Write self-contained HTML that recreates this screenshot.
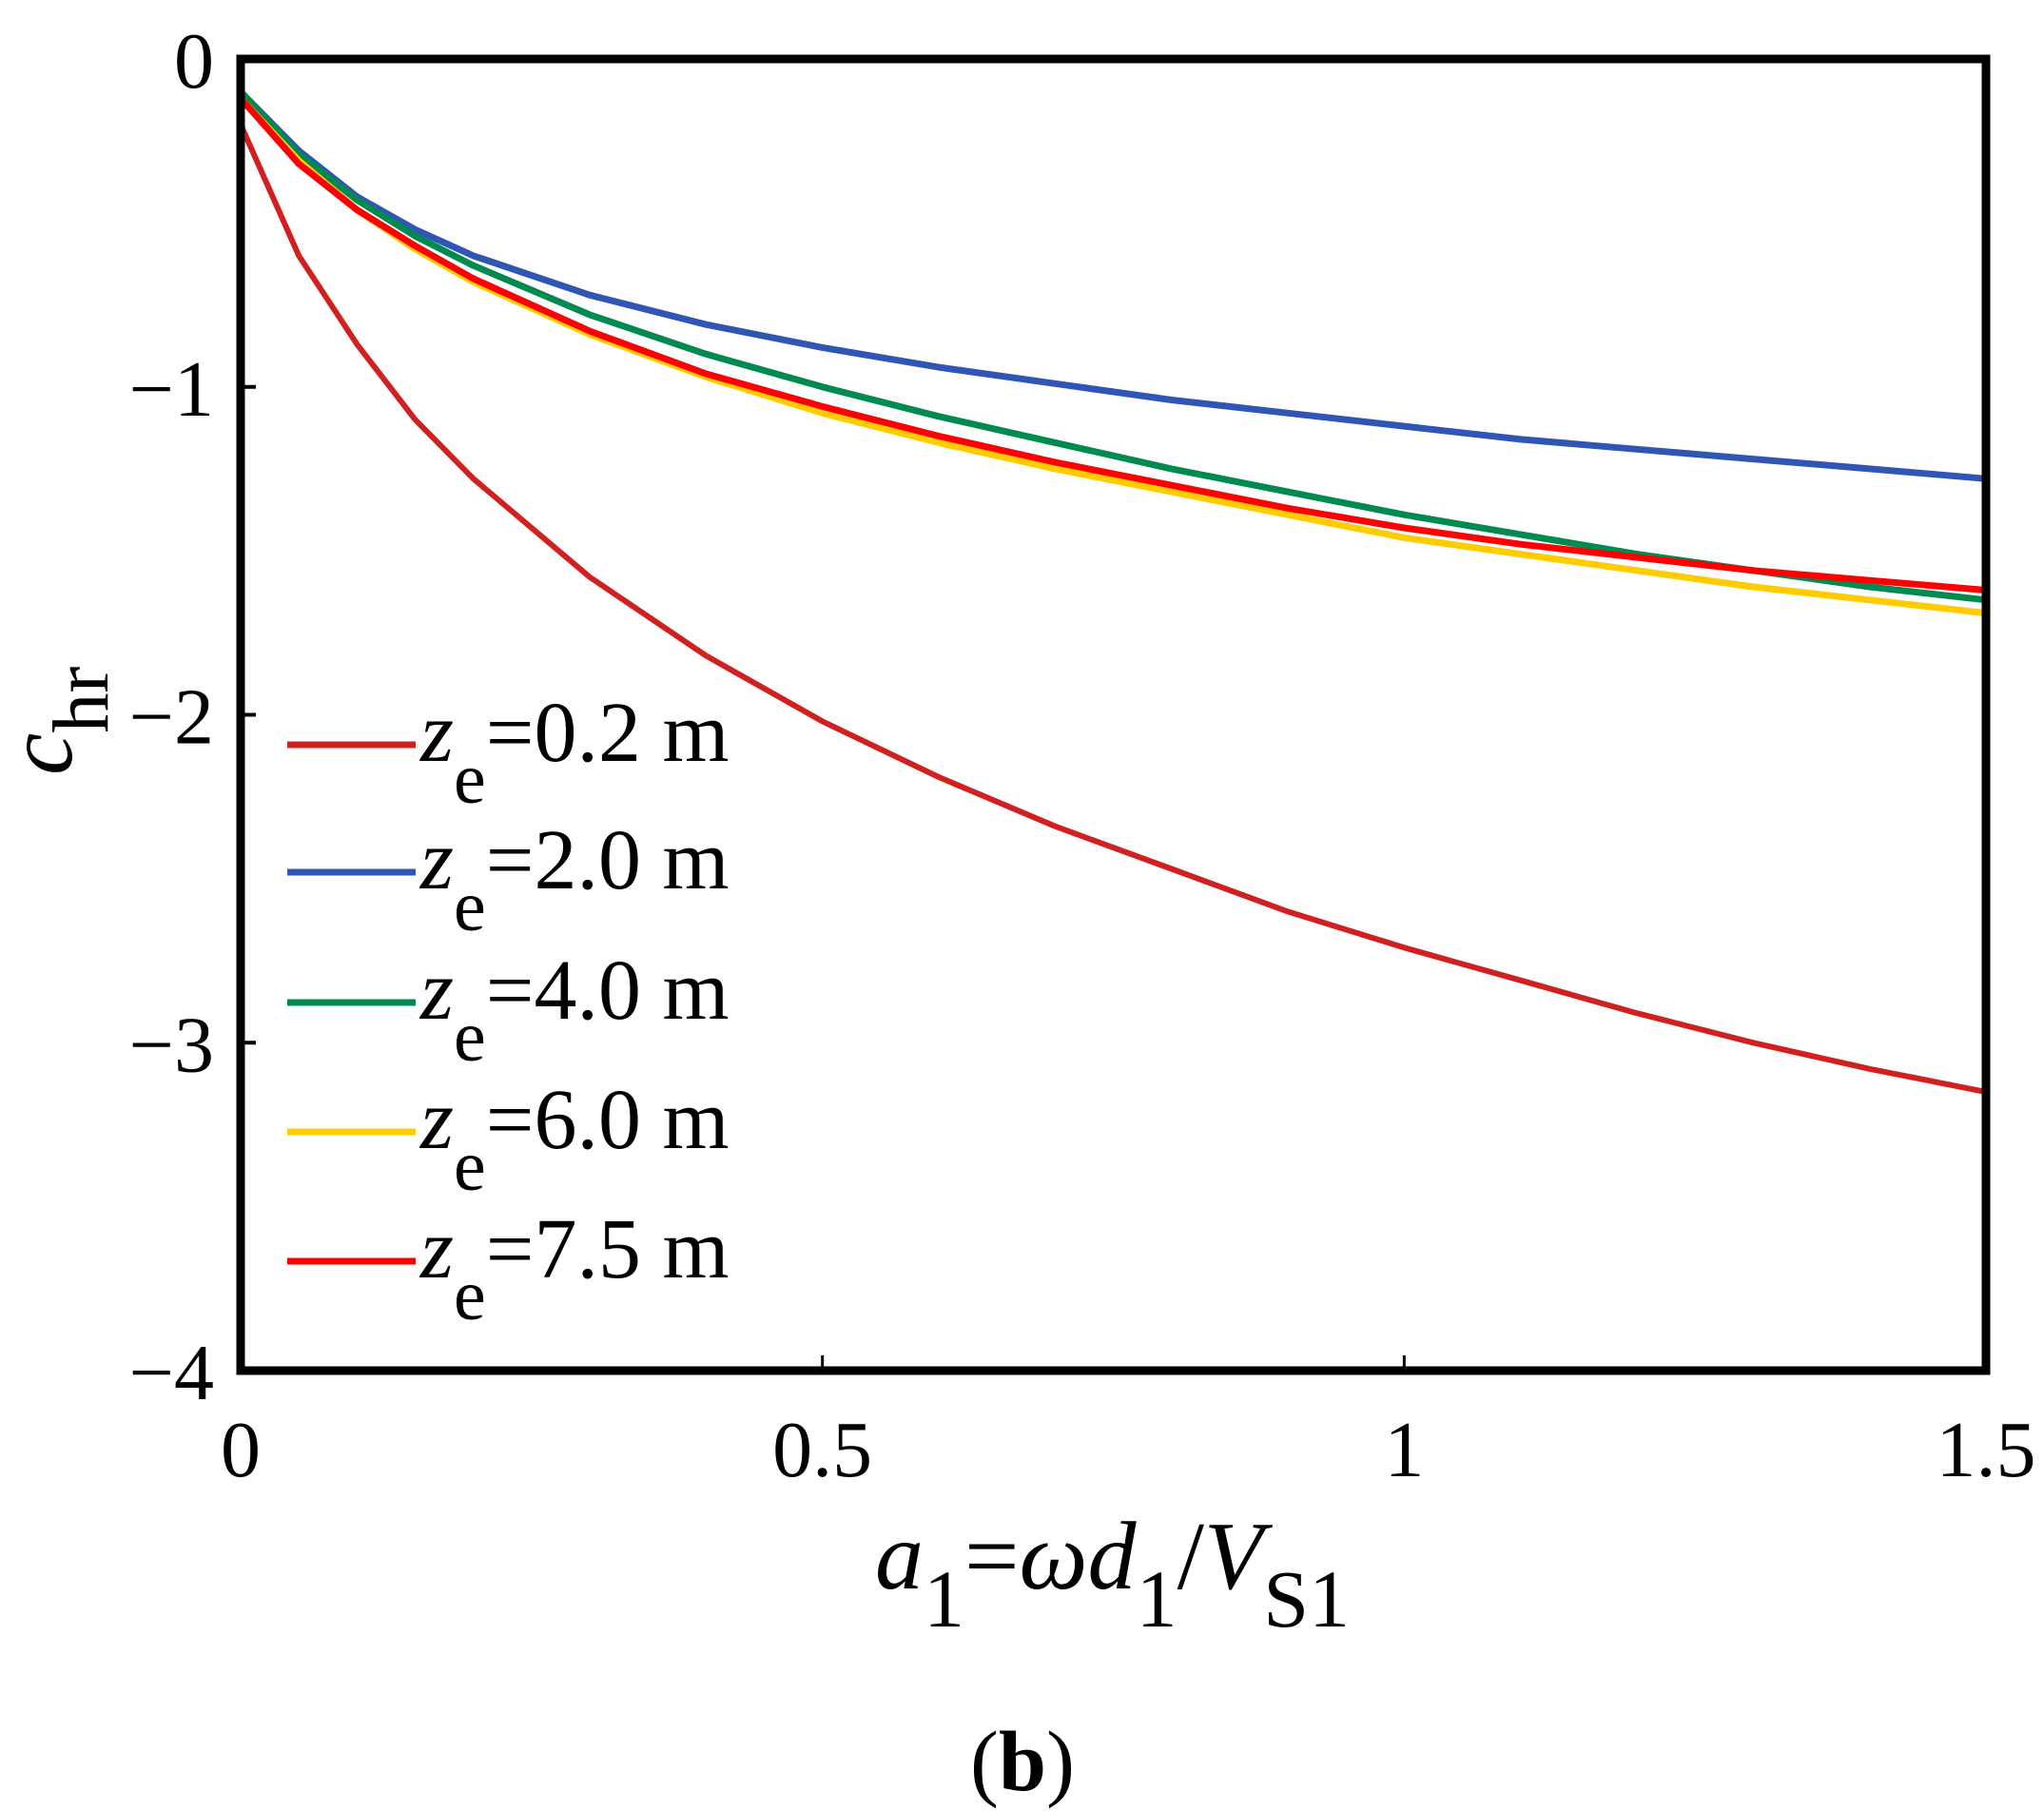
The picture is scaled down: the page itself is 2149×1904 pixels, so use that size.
<!DOCTYPE html>
<html><head><meta charset="utf-8"><style>html,body{margin:0;padding:0;background:#fff}svg{display:block}</style></head>
<body>
<svg id="chart" width="2149" height="1904" viewBox="0 0 2149 1904" xmlns="http://www.w3.org/2000/svg" font-family="'Liberation Serif', serif">
<g id="series"></g>
<rect x="253" y="62" width="1835" height="1379" fill="none" stroke="#000" stroke-width="9"/>
<g id="ticks"></g>
<g font-size="90">
 <g><line x1="302" y1="783" x2="437" y2="783" stroke="#d02020" stroke-width="7"/><text x="442" y="800"><tspan font-style="italic">z</tspan><tspan font-size="76" dy="44">e</tspan><tspan dy="-44">=0.2 m</tspan></text></g>
 <g><line x1="302" y1="917" x2="437" y2="917" stroke="#2f55b5" stroke-width="7"/><text x="442" y="934"><tspan font-style="italic">z</tspan><tspan font-size="76" dy="44">e</tspan><tspan dy="-44">=2.0 m</tspan></text></g>
 <g><line x1="302" y1="1054" x2="437" y2="1054" stroke="#008a50" stroke-width="7"/><text x="442" y="1071"><tspan font-style="italic">z</tspan><tspan font-size="76" dy="44">e</tspan><tspan dy="-44">=4.0 m</tspan></text></g>
 <g><line x1="302" y1="1190" x2="437" y2="1190" stroke="#ffcc00" stroke-width="7"/><text x="442" y="1207"><tspan font-style="italic">z</tspan><tspan font-size="76" dy="44">e</tspan><tspan dy="-44">=6.0 m</tspan></text></g>
 <g><line x1="302" y1="1326" x2="437" y2="1326" stroke="#ff0000" stroke-width="7"/><text x="442" y="1343"><tspan font-style="italic">z</tspan><tspan font-size="76" dy="44">e</tspan><tspan dy="-44">=7.5 m</tspan></text></g>
</g>
<text x="920" y="1670" font-size="102"><tspan font-style="italic">a</tspan><tspan font-size="86" dy="40">1</tspan><tspan dy="-40">=</tspan><tspan font-style="italic">ωd</tspan><tspan font-size="86" dy="40">1</tspan><tspan dy="-40">/</tspan><tspan font-style="italic">V</tspan><tspan font-size="86" dy="40">S1</tspan></text>
<text transform="translate(75,815) rotate(-90)" font-size="100"><tspan font-style="italic">c</tspan><tspan font-size="84" dy="38">hr</tspan></text>
<text x="1075" y="1882" font-size="90" text-anchor="middle">(<tspan font-weight="bold">b</tspan>)</text>
</svg>
<script>
const xValues = [0,0.05,0.1,0.15,0.2,0.3,0.4,0.5,0.6,0.7,0.8,0.9,1.0,1.1,1.2,1.3,1.4,1.5];
const ze02 = [-0.2,-0.6,-0.87,-1.1,-1.28,-1.58,-1.82,-2.02,-2.19,-2.34,-2.47,-2.6,-2.71,-2.81,-2.91,-3.0,-3.08,-3.15];
const ze20 = [-0.1,-0.28,-0.42,-0.52,-0.6,-0.72,-0.81,-0.88,-0.94,-0.99,-1.04,-1.08,-1.12,-1.16,-1.19,-1.22,-1.25,-1.28];
const ze40 = [-0.1,-0.29,-0.43,-0.54,-0.63,-0.78,-0.9,-1.0,-1.09,-1.17,-1.25,-1.32,-1.39,-1.45,-1.51,-1.56,-1.61,-1.65];
const ze60 = [-0.12,-0.31,-0.46,-0.58,-0.68,-0.84,-0.97,-1.08,-1.17,-1.25,-1.32,-1.39,-1.46,-1.51,-1.56,-1.61,-1.65,-1.69];
const ze75 = [-0.12,-0.32,-0.46,-0.57,-0.67,-0.83,-0.96,-1.06,-1.15,-1.23,-1.3,-1.37,-1.43,-1.48,-1.52,-1.56,-1.59,-1.62];
const xTicks = [0,0.5,1,1.5];
const xTickLabels = ["0","0.5","1","1.5"];
const yTicks = [0,-1,-2,-3,-4];
const yTickLabels = ["0","\u22121","\u22122","\u22123","\u22124"];

const NS = "http://www.w3.org/2000/svg";
const X0=253, X1=2088, Y0=62, Y1=1441;
function sx(v){return X0 + (v-0)/(1.5-0)*(X1-X0);}
function sy(v){return Y0 + (0-v)/(0-(-4))*(Y1-Y0);}
const seriesDefs = [
  {name:"line-ze-0.2", data:ze02, color:"#d02020", w:6},
  {name:"line-ze-2.0", data:ze20, color:"#2f55b5", w:7},
  {name:"line-ze-4.0", data:ze40, color:"#008a50", w:7},
  {name:"line-ze-6.0", data:ze60, color:"#ffcc00", w:7},
  {name:"line-ze-7.5", data:ze75, color:"#ff0000", w:7}
];
const sg = document.getElementById("series");
seriesDefs.forEach(s=>{
  const p = document.createElementNS(NS,"polyline");
  p.setAttribute("points", xValues.map((x,i)=>sx(x).toFixed(1)+","+sy(s.data[i]).toFixed(1)).join(" "));
  p.setAttribute("fill","none");
  p.setAttribute("stroke",s.color);
  p.setAttribute("stroke-width",s.w);
  p.setAttribute("stroke-linejoin","round");
  
  
  sg.appendChild(p);
});
const tg = document.getElementById("ticks");
xTicks.forEach((v,i)=>{
  const l = document.createElementNS(NS,"line");
  l.setAttribute("x1",sx(v)); l.setAttribute("x2",sx(v));
  l.setAttribute("y1",Y1); l.setAttribute("y2",Y1-16);
  l.setAttribute("stroke","#000"); l.setAttribute("stroke-width","3");
  
  
  tg.appendChild(l);
  const t = document.createElementNS(NS,"text");
  t.setAttribute("x",sx(v)); t.setAttribute("y",1552);
  t.setAttribute("font-size","84"); t.setAttribute("text-anchor","middle");
  t.textContent = xTickLabels[i];
  
  
  tg.appendChild(t);
});
yTicks.forEach((v,i)=>{
  const l = document.createElementNS(NS,"line");
  l.setAttribute("x1",X0); l.setAttribute("x2",X0+16);
  l.setAttribute("y1",sy(v)); l.setAttribute("y2",sy(v));
  l.setAttribute("stroke","#000"); l.setAttribute("stroke-width","4");
  
  
  tg.appendChild(l);
  const t = document.createElementNS(NS,"text");
  t.setAttribute("x",225); t.setAttribute("y",sy(v)+30);
  t.setAttribute("font-size","84"); t.setAttribute("text-anchor","end");
  t.textContent = yTickLabels[i];
  
  
  tg.appendChild(t);
});
</script>
</body></html>
